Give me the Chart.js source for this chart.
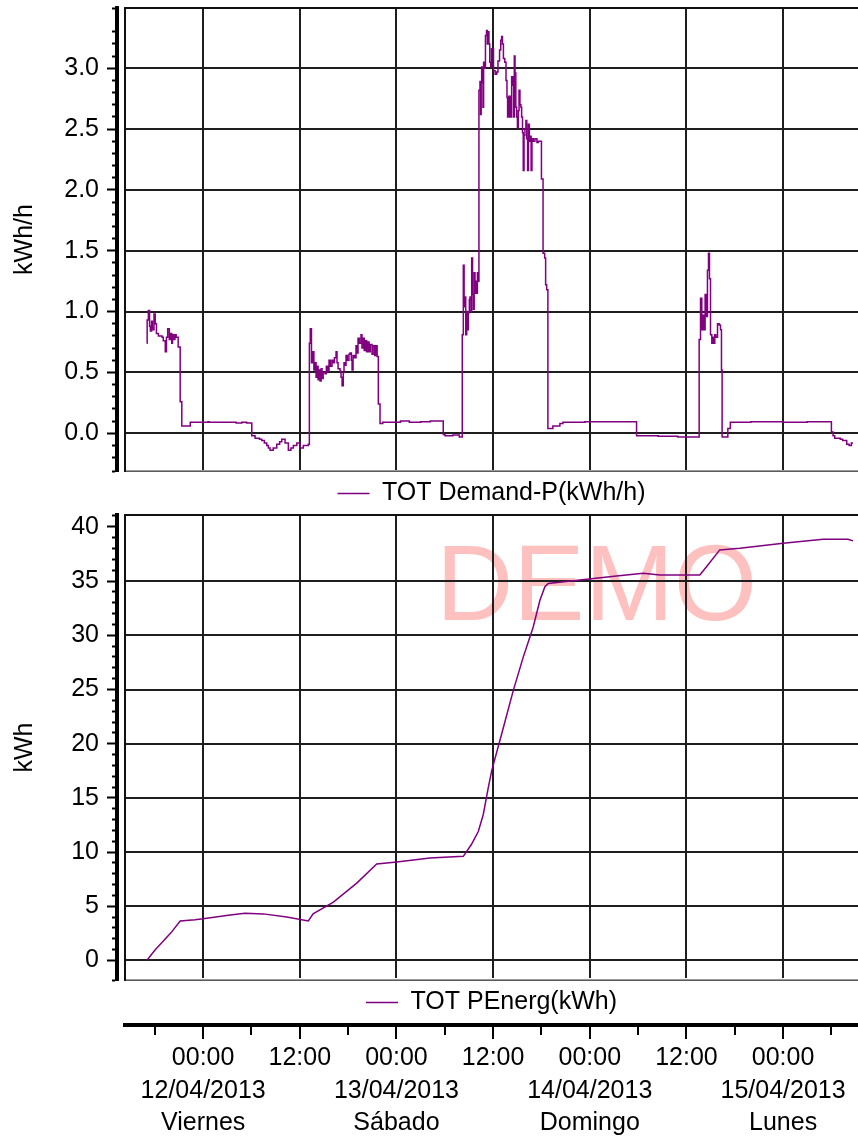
<!DOCTYPE html>
<html>
<head>
<meta charset="utf-8">
<title>TOT Demand-P / PEnerg</title>
<script src="https://cdn.jsdelivr.net/npm/chart.js@4.4.0/dist/chart.umd.min.js"></script>
<style>
  html, body { margin: 0; padding: 0; background: #fff; }
  #wrap { position: relative; width: 858px; height: 1141px; overflow: hidden; }
  canvas { position: absolute; left: 0; }
  #demandCanvas { top: 0; }
  #energyCanvas { top: 508px; }
</style>
</head>
<body>
<div id="wrap">
  <canvas id="demandCanvas" width="858" height="516"></canvas>
  <canvas id="energyCanvas" width="858" height="633"></canvas>
</div>
<script>
// time is counted in hours from 12/04/2013 00:00

// TOT Demand-P (kWh/h), stepped: each value holds until the next time
const demandHours = [
  -7.00, -6.95, -6.80, -6.65, -6.55, -6.40, -6.30, -6.10, -5.95, -5.80, -5.55, -5.10, -4.95, -4.70,
  -4.55, -4.40, -4.20, -4.05, -3.90, -3.80, -3.65, -3.50, -3.35, -3.10, -2.85, -2.65, -1.60,
  0.60, 0.75, 3.00, 4.10, 4.80, 5.40,
  6.04, 6.45, 7.00, 7.28, 7.60, 7.90, 8.10, 8.31, 8.70, 9.14, 9.50, 9.76, 10.17, 10.58, 10.90,
  11.20, 11.63, 12.03, 12.44, 13.06,
  13.19, 13.30, 13.45, 13.60, 13.75, 13.90, 14.02, 14.15, 14.27, 14.40, 14.52, 14.65, 14.76, 14.90,
  15.14, 15.30, 15.45, 15.63, 15.80, 16.00, 16.13, 16.30, 16.50, 16.62, 16.75, 17.00, 17.12, 17.25,
  17.40, 17.49, 17.62, 17.74, 17.90, 18.10, 18.24, 18.40, 18.49, 18.61, 18.80, 18.98, 19.10, 19.23,
  19.40, 19.60, 19.72, 19.85, 20.00, 20.15, 20.30, 20.47, 20.60, 20.75, 20.97, 21.10, 21.30, 21.46,
  21.60, 21.75, 21.96,
  22.30, 24.50, 25.60, 27.00, 28.20,
  29.81, 30.02, 31.00, 31.80,
  32.17, 32.30, 32.40, 32.47, 32.60, 32.72, 32.85, 32.92, 33.05, 33.13, 33.25, 33.34, 33.45, 33.55,
  33.65, 33.75, 33.85, 33.96, 34.05, 34.15,
  34.24, 34.37, 34.45, 34.52, 34.58, 34.66, 34.74, 34.82, 34.95, 35.05, 35.18, 35.28, 35.40, 35.48,
  35.58, 35.70, 35.80, 35.95, 36.05, 36.25, 36.45, 36.60, 36.80, 36.95, 37.06, 37.16, 37.28, 37.45,
  37.60, 37.72, 37.80, 37.95, 38.05, 38.15, 38.21, 38.30, 38.45, 38.55, 38.63, 38.72, 38.82, 38.92,
  39.02, 39.12, 39.22, 39.33, 39.45, 39.54, 39.65, 39.74, 39.84, 39.95, 40.07, 40.18, 40.28, 40.38,
  40.50, 40.61, 40.72, 40.82, 40.98, 41.19, 41.44, 41.60, 41.81, 42.00, 42.20, 42.40, 42.52, 42.65,
  42.80, 43.42, 44.29, 44.67, 47.40,
  53.81, 56.50, 58.93,
  61.58, 61.75, 61.91, 62.03, 62.16, 62.32, 62.49, 62.61, 62.74, 62.86, 62.99, 63.15, 63.28, 63.40,
  63.52, 63.65, 63.86, 64.06, 64.23, 64.35, 64.43, 65.14, 65.45,
  68.00, 72.00, 75.00,
  78.00, 78.20, 78.41, 79.10, 79.40, 79.90, 80.20, 80.48, 80.68
];
const demandValues = [
  0.74, 0.93, 1.01, 0.88, 0.84, 0.92, 0.85, 0.98, 0.90, 0.82, 0.80, 0.79, 0.76, 0.67,
  0.79, 0.86, 0.77, 0.82, 0.74, 0.81, 0.77, 0.81, 0.79, 0.71, 0.26, 0.06, 0.09,
  0.095, 0.09, 0.09, 0.085, 0.09, 0.085,
  -0.02, -0.04, -0.05, -0.06, -0.08, -0.10, -0.12, -0.14, -0.12, -0.09, -0.07, -0.05, -0.08, -0.14, -0.12,
  -0.10, -0.08, -0.12, -0.10, -0.09,
  0.74, 0.86, 0.58, 0.67, 0.52, 0.58, 0.46, 0.55, 0.44, 0.52, 0.43, 0.53, 0.45, 0.50,
  0.49, 0.55, 0.51, 0.60, 0.55, 0.60, 0.58, 0.62, 0.67, 0.58, 0.53, 0.51, 0.46, 0.39,
  0.50, 0.58, 0.56, 0.64, 0.60, 0.65, 0.66, 0.60, 0.52, 0.64, 0.62, 0.72, 0.66, 0.78,
  0.74, 0.81, 0.70, 0.78, 0.68, 0.76, 0.67, 0.75, 0.67, 0.73, 0.65, 0.72, 0.64, 0.72,
  0.63, 0.24, 0.08,
  0.09, 0.10, 0.09, 0.095, 0.10,
  -0.01, -0.02, -0.015, -0.03,
  0.81, 1.38, 1.04, 1.12, 0.81, 1.00, 0.85, 0.99, 1.10, 1.12, 1.00, 1.44, 1.14, 1.02,
  1.32, 1.15, 1.25, 1.15, 1.32, 1.25,
  2.82, 2.89, 2.62, 2.88, 3.01, 2.97, 2.68, 3.05, 3.00, 3.27, 3.31, 3.20, 3.30, 3.20,
  3.05, 3.01, 3.16, 3.16, 2.98, 2.95, 2.97, 3.06, 3.15, 3.23, 3.26, 3.20, 3.08, 3.05,
  2.90, 2.76, 2.60, 2.77, 2.60, 2.77, 2.60, 2.93, 2.86, 2.60, 3.10, 2.96, 2.68, 2.60,
  2.51, 2.65, 2.82, 2.70, 2.68, 2.60, 2.47, 2.16, 2.45, 2.50, 2.57, 2.42, 2.16, 2.54,
  2.40, 2.44, 2.16, 2.42, 2.40, 2.42, 2.39, 2.40, 2.40, 2.09, 1.48, 1.44, 1.22, 1.18,
  0.04, 0.06, 0.08, 0.09, 0.095,
  -0.02, -0.025, -0.03,
  0.77, 1.11, 0.85, 0.97, 0.85, 1.14, 0.96, 1.34, 1.48, 1.27, 0.81, 0.74, 0.79, 0.74,
  0.81, 0.79, 0.90, 0.89, 0.85, 0.52, -0.03, 0.04, 0.09,
  0.095, 0.09, 0.095,
  0.01, -0.02, -0.04, -0.05, -0.06, -0.09, -0.10, -0.08, -0.08
];

// TOT PEnerg (kWh), cumulative
const energyHours = [
  -7.0, -6.0, -5.0, -4.0, -2.85, -1.0, 0.0, 3.35, 5.2, 7.48, 10.38, 13.06, 13.65, 16.17, 19.07,
  21.55, 24.03, 28.16, 32.3, 33.3, 34.16, 34.78, 35.4, 35.82, 37.06, 38.5, 39.74, 40.98, 41.81,
  42.43, 42.84, 46.77, 51.32, 54.63, 56.7, 61.66, 62.49, 64.14, 66.63, 72.0, 76.96, 80.06, 80.68
];
const energyValues = [
  0.0, 0.95, 1.75, 2.55, 3.65, 3.75, 3.84, 4.2, 4.36, 4.3, 4.02, 3.65, 4.3, 5.38, 7.14,
  8.9, 9.08, 9.45, 9.61, 10.7, 11.9, 13.47, 15.94, 17.49, 20.89, 24.9, 27.99, 30.77, 33.24,
  34.48, 34.79, 35.1, 35.47, 35.72, 35.56, 35.56, 36.33, 37.88, 38.03, 38.5, 38.87, 38.87, 38.71
];

// bottom time axis
const dayStartHours = [0, 24, 48, 72];
const dayDates = ['12/04/2013', '13/04/2013', '14/04/2013', '15/04/2013'];
const dayNames = ['Viernes', 'Sábado', 'Domingo', 'Lunes'];

const timeMin = -9.7, timeMax = 81.3;

const FONT = "'Liberation Sans', Arial, sans-serif";
const LINE_COLOR = '#800080';
const GRID_COLOR = '#1e1e1e';

const isMajor = (v, step) => Math.abs(v / step - Math.round(v / step)) < 1e-6;

function toPoints(xs, ys) {
  return xs.map((x, i) => ({ x: x, y: ys[i] }));
}

function timeLabel(value) {
  const d = dayStartHours.indexOf(value);
  if (d >= 0) return ['00:00', dayDates[d], dayNames[d]];
  if (isMajor(value - 12, 24)) return '12:00';
  return '';
}

// left side: a thin axis that carries the grid and the frame line,
// then the spine with major/minor ticks and labels
function leftAxes(min, max, major, minor, title, fmt) {
  return {
    y: {
      type: 'linear', position: 'left', weight: 0, min: min, max: max,
      afterFit: s => { s.width = 8; s.paddingTop = 0; s.paddingBottom = 0; },
      ticks: { display: false, stepSize: major, autoSkip: false, maxTicksLimit: 1000 },
      grid: { color: GRID_COLOR, lineWidth: 2, drawTicks: false },
      border: { color: '#111', width: 2 }
    },
    yTicks: {
      type: 'linear', position: 'left', weight: 1, min: min, max: max,
      afterFit: s => { s.width = 117; s.paddingTop = 0; s.paddingBottom = 0; },
      title: { display: true, text: title, color: '#000', font: { family: FONT, size: 25 }, padding: { top: 10, bottom: 0 } },
      ticks: {
        stepSize: minor, autoSkip: false, maxTicksLimit: 1000, padding: 8, color: '#000',
        font: { family: FONT, size: 25 },
        callback: v => isMajor(v, major) ? fmt(v) : ''
      },
      grid: {
        drawOnChartArea: false, tickLength: 10, tickColor: '#000', tickWidth: 2,
        tickBorderDash: c => isMajor(c.tick.value, major) ? [] : [5, 5],
        tickBorderDashOffset: c => isMajor(c.tick.value, major) ? 0 : 5
      },
      border: { color: '#000', width: 4 }
    }
  };
}

function frameAxis(position, color, width) {
  return {
    type: 'linear', position: position, weight: 0, min: timeMin, max: timeMax,
    ticks: { display: false },
    grid: { display: false, drawTicks: false },
    border: { color: color, width: width }
  };
}

function legendOptions() {
  return {
    position: 'bottom', fullSize: false,
    labels: {
      usePointStyle: true, pointStyle: 'line', pointStyleWidth: 32,
      color: '#000', font: { family: FONT, size: 25 }, padding: 10
    }
  };
}

const demoStamp = {
  id: 'demoStamp',
  beforeDraw(chart) {
    const { ctx, chartArea } = chart;
    ctx.save();
    ctx.font = '107px ' + FONT;
    ctx.fillStyle = 'rgb(255,192,192)';
    ctx.textBaseline = 'alphabetic';
    ctx.fillText('DEMO', chartArea.left + 311, chartArea.top + 105);
    ctx.restore();
  }
};

// --- top panel: demand ---
new Chart(document.getElementById('demandCanvas'), {
  type: 'line',
  data: {
    datasets: [{
      label: 'TOT Demand-P(kWh/h)',
      data: toPoints(demandHours, demandValues),
      borderColor: LINE_COLOR,
      backgroundColor: LINE_COLOR,
      borderWidth: 1.5,
      pointRadius: 0,
      stepped: true,
      fill: false
    }]
  },
  options: {
    responsive: false,
    animation: false,
    events: [],
    layout: { padding: { top: 8, right: 0, bottom: 0, left: 0 } },
    plugins: { legend: legendOptions(), tooltip: { enabled: false } },
    scales: Object.assign({
      x: {
        type: 'linear', position: 'bottom', weight: 0, min: timeMin, max: timeMax,
        ticks: { display: false, stepSize: 12, includeBounds: false, autoSkip: false },
        grid: { color: GRID_COLOR, lineWidth: 2, drawTicks: false },
        border: { color: '#999', width: 1.5 }
      },
      xTop: frameAxis('top', '#111', 2)
    }, leftAxes(-0.31, 3.495, 0.5, 0.1, 'kWh/h', v => v.toFixed(1)))
  }
});

// --- bottom panel: cumulative energy, with the shared time axis under its legend ---
new Chart(document.getElementById('energyCanvas'), {
  type: 'line',
  data: {
    datasets: [{
      label: 'TOT PEnerg(kWh)',
      data: toPoints(energyHours, energyValues),
      borderColor: LINE_COLOR,
      backgroundColor: LINE_COLOR,
      borderWidth: 1.5,
      pointRadius: 0,
      tension: 0,
      fill: false
    }]
  },
  options: {
    responsive: false,
    animation: false,
    events: [],
    layout: { padding: { top: 7, right: 0, bottom: 0, left: 0 } },
    plugins: { legend: legendOptions(), tooltip: { enabled: false } },
    scales: Object.assign({
      x: {
        type: 'linear', position: 'bottom', weight: 2000, min: timeMin, max: timeMax,
        afterFit: s => { s.height = 116; },
        ticks: {
          stepSize: 6, includeBounds: false, autoSkip: false, maxRotation: 0, minRotation: 0,
          padding: 3, color: '#000', font: { family: FONT, size: 25, lineHeight: 1.3 },
          callback: timeLabel
        },
        grid: {
          color: c => (c.tick && isMajor(c.tick.value, 12)) ? GRID_COLOR : 'rgba(0,0,0,0)',
          lineWidth: 2, tickLength: 14, tickColor: '#000', tickWidth: 2,
          tickBorderDash: c => isMajor(c.tick.value, 12) ? [] : [8, 20]
        },
        border: { color: '#000', width: 4 }
      },
      xb: frameAxis('bottom', '#999', 1.5),
      xTop: frameAxis('top', '#111', 2)
    }, leftAxes(-1.8, 41.1, 5, 1, 'kWh', v => String(Math.round(v))))
  },
  plugins: [demoStamp]
});
</script>
</body>
</html>
